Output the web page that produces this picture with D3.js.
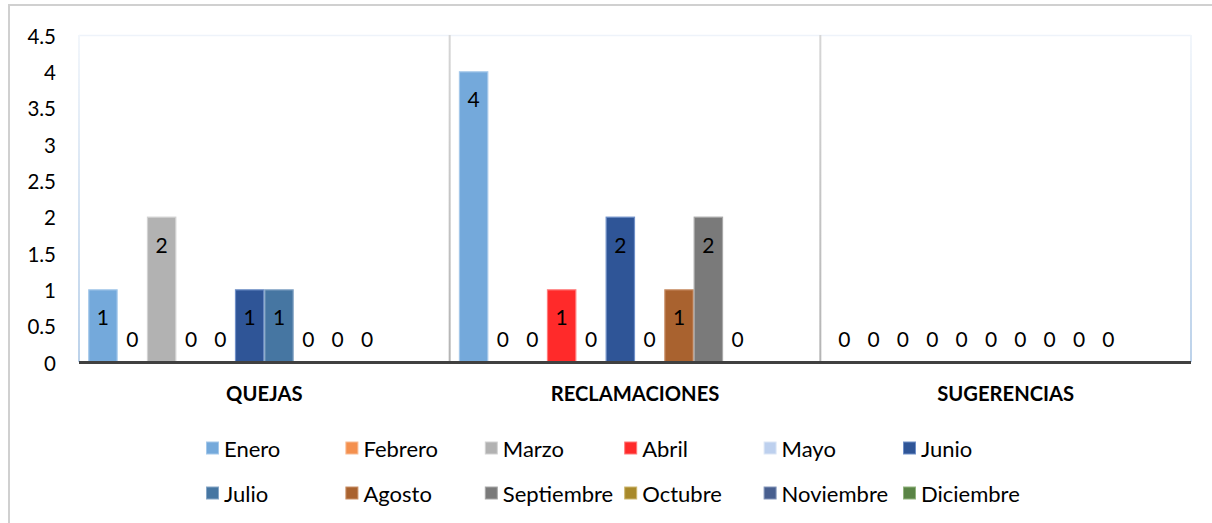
<!DOCTYPE html>
<html>
<head>
<meta charset="utf-8">
<script src="https://cdn.jsdelivr.net/npm/d3@7/dist/d3.min.js"></script>
<style>
  html, body { margin: 0; padding: 0; background: #fff; }
  svg { display: block; font-family: Lato, "Noto Sans", sans-serif; }
</style>
</head>
<body>
<svg id="chart" width="1212" height="523"></svg>
<script>
// Categories along the x axis
const categories = ["QUEJAS", "RECLAMACIONES", "SUGERENCIAS"];

// One series per month; null means no entry for that month
const months = ["Enero", "Febrero", "Marzo", "Abril", "Mayo", "Junio",
                "Julio", "Agosto", "Septiembre", "Octubre", "Noviembre", "Diciembre"];

// Values per month, in category order [QUEJAS, RECLAMACIONES, SUGERENCIAS]
const enero      = [1, 4, 0];
const febrero    = [0, 0, 0];
const marzo      = [2, 0, 0];
const abril      = [0, 1, 0];
const mayo       = [0, 0, 0];
const junio      = [1, 2, 0];
const julio      = [1, 0, 0];
const agosto     = [0, 1, 0];
const septiembre = [0, 2, 0];
const octubre    = [0, 0, 0];
const noviembre  = [null, null, null];
const diciembre  = [null, null, null];

const seriesValues = [enero, febrero, marzo, abril, mayo, junio,
                      julio, agosto, septiembre, octubre, noviembre, diciembre];

const yTicks = [0, 0.5, 1, 1.5, 2, 2.5, 3, 3.5, 4, 4.5];

// Fill and edge colour per month
const fills   = ["#74A9DB", "#F4904E", "#B2B2B2", "#FF2A2A", "#BDD0EE", "#2F5597",
                 "#4676A2", "#A9622F", "#7A7A7A", "#A8892A", "#485F8F", "#5A8446"];
const strokes = ["#A4C8EA", "#F8BC94", "#D2D2D2", "#FF7A7A", "#DCE6F5", "#6F8FC7",
                 "#86A6C6", "#C99068", "#A8A8A8", "#CDB770", "#8496BA", "#92B47E"];

const svg = d3.select("#chart");

// Chart frame
svg.append("rect")
  .attr("x", 9).attr("y", 5).attr("width", 1230).attr("height", 540)
  .attr("fill", "#fff").attr("stroke", "#d0d0d0").attr("stroke-width", 2);

const plot = { left: 79, right: 1191, top: 35, bottom: 362 };

const y = d3.scaleLinear().domain([0, 4.5]).range([plot.bottom, plot.top]);

const x0 = d3.scaleBand()
  .domain(categories)
  .range([plot.left, plot.right])
  .paddingInner(0.05)
  .paddingOuter(0.025);

const x1 = d3.scaleBand()
  .domain(months)
  .range([0, x0.bandwidth()])
  .padding(0);

// Faint plot-area edges
const defs = svg.append("defs");
const edgeGrad = defs.append("linearGradient")
  .attr("id", "edge").attr("x1", 0).attr("y1", 0).attr("x2", 0).attr("y2", 1);
edgeGrad.append("stop").attr("offset", "0%").attr("stop-color", "#f2f6fb");
edgeGrad.append("stop").attr("offset", "100%").attr("stop-color", "#bcd2ea");
const sepGrad = defs.append("linearGradient")
  .attr("id", "sep").attr("x1", 0).attr("y1", 0).attr("x2", 0).attr("y2", 1);
sepGrad.append("stop").attr("offset", "0%").attr("stop-color", "#d6d6d6");
sepGrad.append("stop").attr("offset", "100%").attr("stop-color", "#b4b4b4");

svg.append("line")
  .attr("x1", plot.left).attr("x2", plot.right)
  .attr("y1", plot.top + 0.5).attr("y2", plot.top + 0.5)
  .attr("stroke", "#eef3fa").attr("stroke-width", 1.5);
[plot.left, plot.right].forEach(xx => {
  svg.append("rect")
    .attr("x", xx - 1).attr("y", plot.top)
    .attr("width", 2).attr("height", plot.bottom - plot.top)
    .attr("fill", "url(#edge)");
});

// Separators between categories
categories.slice(1).forEach(c => {
  const sx = x0(c) - x0.step() * x0.paddingInner() / 2;
  svg.append("rect")
    .attr("x", sx - 1).attr("y", plot.top)
    .attr("width", 2).attr("height", plot.bottom - plot.top)
    .attr("fill", "url(#sep)");
});

// Flattened bar data
const bars = [];
categories.forEach((c, ci) => {
  months.forEach((m, mi) => {
    bars.push({ cat: c, month: m, mi, value: seriesValues[mi][ci] });
  });
});

const g = svg.append("g");

g.selectAll("rect.bar")
  .data(bars.filter(d => d.value != null && d.value > 0))
  .join("rect")
  .attr("class", "bar")
  .attr("x", d => x0(d.cat) + x1(d.month) + 0.5)
  .attr("y", d => y(d.value) + 0.5)
  .attr("width", x1.bandwidth() - 1)
  .attr("height", d => y(0) - y(d.value) - 0.5)
  .attr("fill", d => fills[d.mi])
  .attr("stroke", d => strokes[d.mi])
  .attr("stroke-width", 1.2);

// Value labels
g.selectAll("text.val")
  .data(bars.filter(d => d.value != null))
  .join("text")
  .attr("class", "val")
  .attr("x", d => x0(d.cat) + x1(d.month) + x1.bandwidth() / 2)
  .attr("y", d => d.value > 0 ? y(d.value) + 27.5 : y(0) - 24)
  .attr("text-anchor", "middle")
  .attr("dominant-baseline", "central")
  .attr("font-size", 21)
  .attr("fill", "#000")
  .text(d => d3.format("d")(d.value));

// Baseline
svg.append("line")
  .attr("x1", plot.left).attr("x2", plot.right)
  .attr("y1", y(0) + 0.5).attr("y2", y(0) + 0.5)
  .attr("stroke", "#404040").attr("stroke-width", 3);

// Y axis labels
const yAxis = d3.axisLeft(y).tickValues(yTicks).tickSize(0).tickPadding(0)
  .tickFormat(d3.format("~g"));
const yg = svg.append("g").attr("transform", "translate(56,0)").call(yAxis);
yg.select(".domain").remove();
yg.selectAll("text")
  .attr("font-size", 20.5).attr("font-family", "Lato, 'Noto Sans', sans-serif")
  .attr("fill", "#000").attr("dy", null).attr("dominant-baseline", "central");

// Category labels
const xAxis = d3.axisBottom(x0).tickSize(0).tickPadding(0);
const xg = svg.append("g").attr("transform", "translate(0,393)").call(xAxis);
xg.select(".domain").remove();
xg.selectAll("text")
  .attr("font-size", 20.2).attr("font-weight", "bold")
  .attr("font-family", "Lato, 'Noto Sans', sans-serif")
  .attr("fill", "#000").attr("dy", null).attr("y", 0)
  .attr("dominant-baseline", "central");

// Legend: six columns, two rows
const legX = d3.scaleLinear().domain([0, 5]).range([206, 903]);
const legY = d3.scaleLinear().domain([0, 1]).range([448, 493]);
const leg = svg.append("g").selectAll("g")
  .data(months)
  .join("g")
  .attr("transform", (d, i) => `translate(${legX(i % 6)},${legY(Math.floor(i / 6))})`);
leg.append("rect")
  .attr("x", 0.5).attr("y", -6).attr("width", 12).attr("height", 12)
  .attr("fill", (d, i) => fills[i])
  .attr("stroke", (d, i) => strokes[i]).attr("stroke-width", 1);
leg.append("text")
  .attr("x", 18).attr("y", 0)
  .attr("dominant-baseline", "central")
  .attr("font-size", 22)
  .attr("fill", "#000")
  .text(d => d);
</script>
</body>
</html>
